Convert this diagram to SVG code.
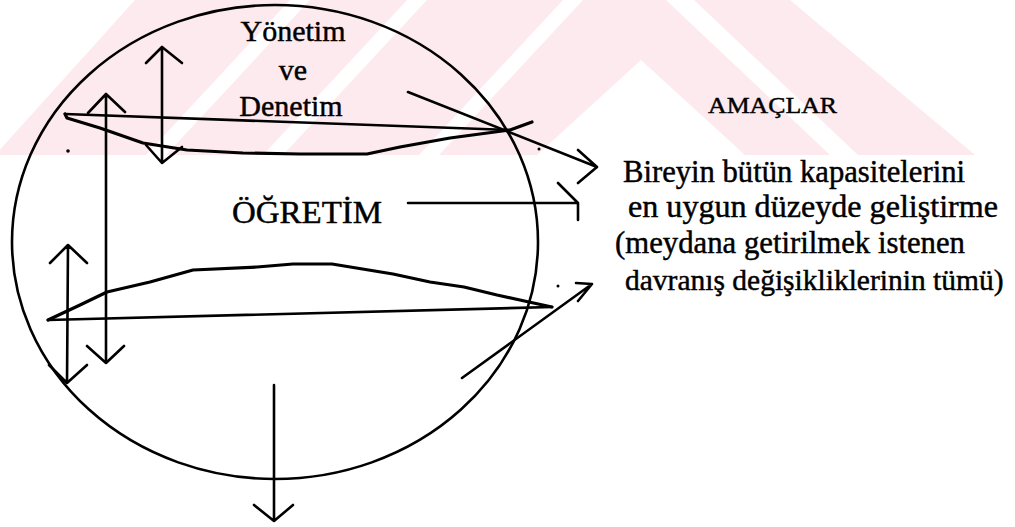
<svg xmlns="http://www.w3.org/2000/svg" width="1015" height="527" viewBox="0 0 1015 527">
<style>
.wm{fill:#fdeaee}
.wh{fill:#ffffff}
.ln{fill:none;stroke:#000;stroke-width:2.6;stroke-linecap:round;stroke-linejoin:round}
.wv{fill:none;stroke:#000;stroke-width:3.2;stroke-linecap:round;stroke-linejoin:round}
text{font-family:'Liberation Serif','Times New Roman','DejaVu Serif',serif;fill:#000;stroke:#000;stroke-width:0.45}
.dot{fill:#000}
</style>
<rect width="1015" height="527" fill="#fff"/>
<g id="watermark">
<polygon class="wm" points="135,0 790,0 975,155 -5,155"/>
<polygon class="wh" points="290,0 310,0 166,155 146,155"/>
<polygon class="wh" points="407,0 427,0 283,155 263,155"/>
<polygon class="wh" points="563,0 583,0 439,155 419,155"/>
<polygon class="wh" points="641,60 537,155 745,155"/>
<polygon class="wh" points="666,0 694,0 858,155 830,155"/>
</g>
<g id="circle">
<ellipse class="ln" cx="275" cy="242" rx="263" ry="237"/>
</g>
<g id="yonetim-denetim">
<path class="ln" d="M65,114 L510,130"/>
<path class="wv" d="M65,114 L67,118 L100,128 L143,143 L187,150 L243,153 L300,154 L367,154 L400,147 L450,138 L510,130 L532,122"/>
<text x="293" y="41" font-size="30" text-anchor="middle">Yönetim</text>
<text x="293" y="80" font-size="30" text-anchor="middle">ve</text>
<text x="291" y="116" font-size="30" text-anchor="middle">Denetim</text>
</g>
<g id="ogretim">
<path class="ln" d="M48,320 L552,307"/>
<path class="wv" d="M48,320 L80,305 L107,292 L150,282 L193,270 L257,267 L293,264 L332,264 L393,274 L430,282 L464,287 L497,295 L529,302 L552,307"/>
<text x="232" y="223" font-size="31" textLength="150" lengthAdjust="spacingAndGlyphs">ÖĞRETİM</text>
</g>
<g id="amaclar">
<text x="708" y="113" font-size="24" textLength="129" lengthAdjust="spacingAndGlyphs">AMAÇLAR</text>
<text x="623" y="182" font-size="31" textLength="342" lengthAdjust="spacingAndGlyphs">Bireyin bütün kapasitelerini</text>
<text x="628" y="217" font-size="31" textLength="370" lengthAdjust="spacingAndGlyphs">en uygun düzeyde geliştirme</text>
<text x="615" y="253" font-size="31" textLength="350" lengthAdjust="spacingAndGlyphs">(meydana getirilmek istenen</text>
<text x="625" y="290" font-size="29.5">davranış değişikliklerinin tümü)</text>
</g>
<g id="connectors">
<path class="ln" d="M162,47 L162,163 M146,63 L162,47 L182,63 M146,145 L162,163 L182,147"/>
<path class="ln" d="M106,94 L106,363 M88,113 L106,94 L125,112 M87,346 L106,363 L124,346"/>
<path class="ln" d="M68,245 L67,383 M50,263 L68,245 L87,263 M49,365 L67,383 L87,365"/>
<path class="ln" d="M274,385 L274,521 M254,505 L274,521 L293,505"/>
<path class="ln" d="M408,92 L597,167 M578,150 L597,167 L578,183"/>
<path class="ln" d="M408,203 L578,203 M558,183 L578,203 L578,220"/>
<path class="ln" d="M462,378 L592,284 M576,283 L592,284 L578,301"/>
<circle class="dot" cx="68" cy="151" r="1.8"/>
<circle class="dot" cx="539" cy="149" r="1.5"/>
<circle class="dot" cx="558" cy="286" r="1.5"/>
</g>
</svg>
